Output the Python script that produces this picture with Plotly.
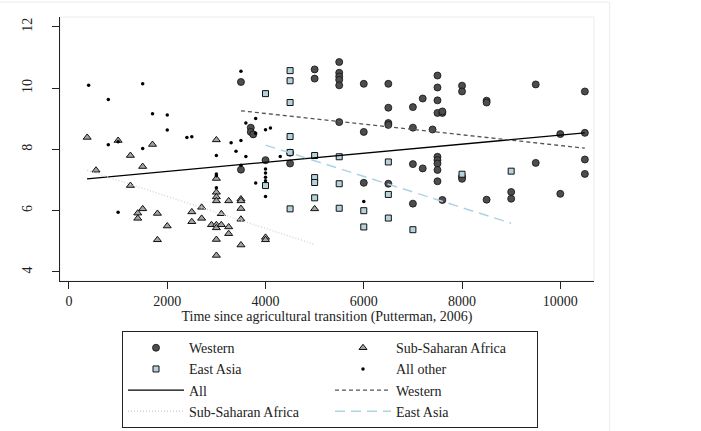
import plotly.graph_objects as go

# ---- data ----
west_x = [3500, 3500, 3700, 3700, 3750, 4000, 4500, 4500, 5000, 5000,
          5500, 5500, 5500, 5500, 5500, 5500, 6000, 6000, 6000, 6500,
          6500, 6500, 6500, 6500, 7000, 7000, 7000, 7000, 7200, 7200,
          7400, 7500, 7500, 7500, 7500, 7600, 7600, 7500, 7500, 7500,
          7500, 7500, 7600, 8000, 8000, 8000, 8000, 8500, 8500, 8500,
          9500, 9500, 9000, 9000, 10000, 10000, 10500, 10500, 10500, 10500]
west_y = [10.20, 7.34, 8.71, 8.57, 8.49, 7.65, 7.89, 7.54, 10.61, 10.31,
          10.85, 10.50, 10.38, 10.27, 10.09, 8.89, 10.14, 8.57, 6.91, 10.14,
          9.36, 8.86, 8.80, 6.88, 9.38, 8.71, 7.52, 6.23, 9.66, 7.38,
          8.65, 10.41, 10.02, 9.60, 9.19, 9.19, 9.24, 7.76, 7.65, 7.54,
          7.33, 6.96, 6.35, 10.08, 9.89, 7.11, 7.04, 9.59, 9.53, 6.36,
          10.12, 7.56, 6.61, 6.39, 8.50, 6.55, 9.89, 8.54, 7.67, 7.20]

ssa_x = [370, 550, 1000, 1250, 1700, 1500, 1250, 1500, 1400, 1400,
         1800, 2000, 1800, 2500, 2500, 2700, 2700, 3000, 3000, 3000,
         3000, 3000, 2900, 3000, 3000, 3100, 3100, 3250, 3250, 3250,
         3000, 3000, 3500, 3500, 3500, 3500, 3500, 4000, 4000, 5000]
ssa_y = [8.39, 7.32, 8.29, 7.80, 8.16, 7.44, 6.82, 6.06, 5.92, 5.75,
         5.91, 5.50, 5.05, 5.96, 5.64, 6.11, 5.75, 8.31, 7.05, 6.60,
         6.45, 6.32, 5.54, 5.54, 5.44, 5.90, 5.54, 6.32, 5.47, 5.25,
         5.06, 4.54, 6.38, 6.32, 6.07, 5.72, 4.88, 5.13, 5.05, 6.06]

ea_x = [4000, 4000, 4500, 4500, 4500, 4500, 4500, 4500, 5000, 5000,
        5000, 5000, 5500, 5500, 5500, 6000, 6000, 6500, 6500, 6500,
        7000, 8000, 9000]
ea_y = [9.82, 6.82, 10.57, 10.24, 9.53, 8.42, 6.06, 7.90, 7.80, 7.08,
        6.92, 6.42, 7.76, 6.88, 6.08, 6.00, 5.47, 7.59, 6.53, 5.76,
        5.38, 7.19, 7.29]

oth_x = [400, 1500, 800, 1700, 2000, 2000, 800, 1500, 1000, 2400,
         2500, 1000, 3300, 3400, 3000, 3000, 3000, 3000, 3500, 3500,
         3600, 3800, 3800, 3600, 3500, 3800, 4000, 4100, 4000, 4000,
         4000, 4000, 4000, 4300, 6000]
oth_y = [10.09, 10.14, 9.63, 9.16, 9.12, 8.63, 8.15, 8.03, 8.25, 8.39,
         8.41, 5.95, 8.22, 7.94, 7.80, 7.20, 7.14, 6.75, 10.55, 8.29,
         8.86, 9.01, 8.53, 7.77, 7.48, 6.90, 8.64, 8.70, 7.36, 7.23,
         7.09, 6.98, 6.46, 7.77, 6.30]

# fitted lines (end points)
fit_all_x = [367, 10497]
fit_all_y = [7.04, 8.54]
fit_west_x = [3500, 10500]
fit_west_y = [9.26, 8.04]
fit_ssa_x = [370, 5000]
fit_ssa_y = [7.32, 4.90]
fit_ea_x = [4000, 9000]
fit_ea_y = [8.14, 5.59]

x_ticks = [0, 2000, 4000, 6000, 8000, 10000]
y_ticks = [4, 6, 8, 10, 12]

FONT = "Liberation Serif"
INK = "#222222"

fig = go.Figure()
fig.add_trace(go.Scatter(x=west_x, y=west_y, mode="markers", name="Western",
                         marker=dict(symbol="circle", size=7, color="#4d4d4d",
                                     line=dict(color="#111111", width=0.8))))
fig.add_trace(go.Scatter(x=ssa_x, y=ssa_y, mode="markers", name="Sub-Saharan Africa",
                         marker=dict(symbol="triangle-up", size=7, color="#a4a4a4",
                                     line=dict(color="#111111", width=1))))
fig.add_trace(go.Scatter(x=ea_x, y=ea_y, mode="markers", name="East Asia",
                         marker=dict(symbol="square", size=6, color="#b6d2dc",
                                     line=dict(color="#111111", width=1))))
fig.add_trace(go.Scatter(x=oth_x, y=oth_y, mode="markers", name="All other",
                         marker=dict(symbol="circle", size=3.5, color="#000000")))
fig.add_trace(go.Scatter(x=fit_all_x, y=fit_all_y, mode="lines", name="All",
                         line=dict(color="#000000", width=1.3)))
fig.add_trace(go.Scatter(x=fit_west_x, y=fit_west_y, mode="lines", name="Western",
                         line=dict(color="#555555", width=1.3, dash="4px,3px")))
fig.add_trace(go.Scatter(x=fit_ssa_x, y=fit_ssa_y, mode="lines", name="Sub-Saharan Africa",
                         line=dict(color="#d8d4d4", width=1.5, dash="1px,2px")))
fig.add_trace(go.Scatter(x=fit_ea_x, y=fit_ea_y, mode="lines", name="East Asia",
                         line=dict(color="#add3e2", width=1.5, dash="10px,6px")))

fig.update_layout(
    width=701, height=431,
    margin=dict(l=60, r=107, t=17, b=150, autoexpand=False),
    paper_bgcolor="white", plot_bgcolor="white",
    font=dict(family=FONT, size=14, color=INK),
    showlegend=True,
    legend=dict(orientation="h", x=(122 - 60) / 534, xanchor="left", y=-0.19, yanchor="top",
                bordercolor=INK, borderwidth=1, bgcolor="white",
                font=dict(family=FONT, size=14, color=INK),
                itemwidth=56, entrywidth=136, entrywidthmode="pixels",
                traceorder="normal"),
    xaxis=dict(range=[-183, 10686], tickvals=x_ticks, ticktext=[str(v) for v in x_ticks],
               automargin=False,
               showgrid=False, zeroline=False, showline=True, linecolor=INK,
               linewidth=1, ticks="outside", ticklen=7, tickcolor=INK,
               tickfont=dict(family=FONT, size=14, color=INK),
               title=dict(text="Time since agricultural transition (Putterman, 2006)",
                          font=dict(family=FONT, size=14, color=INK), standoff=0)),
    yaxis=dict(range=[3.706, 12.32], tickvals=y_ticks, ticktext=[str(v) for v in y_ticks],
               automargin=False,
               showgrid=False, zeroline=False, showline=True, linecolor=INK,
               linewidth=1, ticks="outside", ticklen=7, tickcolor=INK,
               tickangle=-90, ticklabelstandoff=14,
               tickfont=dict(family=FONT, size=14, color=INK)),
    shapes=[
        dict(type="rect", xref="paper", yref="paper", x0=0, x1=1, y0=0, y1=1,
             line=dict(color="#ececec", width=1), layer="below"),
        dict(type="rect", xref="paper", yref="paper", x0=-0.115, x1=1.0294,
             y0=-0.575, y1=1.0568, line=dict(color="#ececec", width=1), layer="below"),
    ],
)

fig.write_html("out.html", config={"displayModeBar": False},
               post_script="document.body.style.margin='0';document.body.style.overflow='hidden';")
